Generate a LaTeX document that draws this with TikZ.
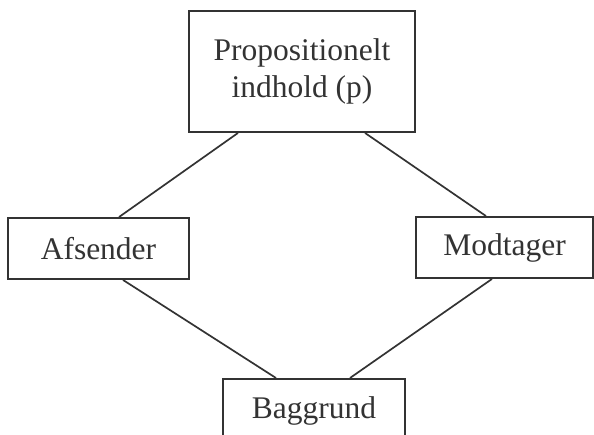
\documentclass[tikz,border=0pt]{standalone}
\usepackage{fontspec}
\setmainfont{Liberation Serif}
\definecolor{ink}{HTML}{333333}
\begin{document}
\begin{tikzpicture}[x=1pt,y=1pt,
  box/.style={draw=ink, line width=1.9pt, rectangle, inner sep=0pt,
    text=ink, font=\fontsize{31.5}{37}\selectfont, align=center},
  link/.style={draw=ink, line width=1.7pt}]
\useasboundingbox (0,0) rectangle (594,-435);
\clip (0,0) rectangle (594,-435);

% the four boxes
\node[box, minimum width=226pt, minimum height=121pt] (p) at (302,-71.5)
  {Propositionelt\\indhold (p)};
\node[box, minimum width=181pt, minimum height=61pt] (a) at (98.5,-248.5) {Afsender};
\node[box, minimum width=177pt, minimum height=61pt] (m) at (504.5,-247.5) {Modtager};
\node[box, anchor=north, minimum width=182pt, text height=21pt, text depth=40pt,
  inner ysep=19pt] (b) at (314,-378) {Baggrund};

% connectors forming the diamond
\draw[link] ([xshift=-64pt]p.south) -- ([xshift=20.5pt]a.north);
\draw[link] ([xshift=63pt]p.south) -- ([xshift=-18.5pt]m.north);
\draw[link] ([xshift=24.5pt]a.south) -- ([xshift=-38pt]b.north);
\draw[link] ([xshift=-12.5pt]m.south) -- ([xshift=36pt]b.north);
\end{tikzpicture}
\end{document}
